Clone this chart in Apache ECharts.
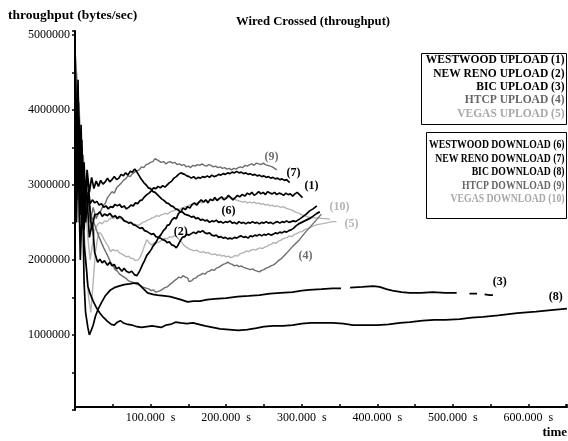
<!DOCTYPE html>
<html>
<head>
<meta charset="utf-8">
<title>Wired Crossed (throughput)</title>
<script src="https://cdn.jsdelivr.net/npm/echarts@6/dist/echarts.min.js"></script>
<style>html,body{margin:0;padding:0;background:#fff;}</style>
</head>
<body>
<div id="main" style="width:568px;height:441px;"></div>
<script type="text/javascript">
// legend texts and line tags
var uploadNames = ['WESTWOOD UPLOAD (1)', 'NEW RENO UPLOAD (2)', 'BIC UPLOAD (3)', 'HTCP UPLOAD (4)', 'VEGAS UPLOAD (5)'];
var downloadNames = ['WESTWOOD DOWNLOAD (6)', 'NEW RENO DOWNLOAD (7)', 'BIC DOWNLOAD (8)', 'HTCP DOWNLOAD (9)', 'VEGAS DOWNLOAD (10)'];
var tags = ['(1)', '(2)', '(3)', '(4)', '(5)', '(6)', '(7)', '(8)', '(9)', '(10)'];
// where each tag sits, [time s, bytes/sec]
var tagAt = [[313, 2987000], [140, 2373000], [562, 1707000], [305, 2053000], [366, 2480000],
             [203, 2653000], [289, 3160000], [636, 1507000], [260, 3373000], [350, 2707000]];

// [time (s), throughput (bytes/sec)]
var westwoodUp = [[0,4950000],[2,3000000],[4,4300000],[6,2500000],[9,3600000],[12,2400000],[15,3000000],[19,2300000],[23,2500000],[26,2100000],[30,1970000],[33,2010000],[36,1960000],[39,1990000],[43,1930000],[46,1970000],[49,1920000],[52,1940000],[55,1880000],[58,1900000],[62,1850000],[65,1890000],[68,1850000],[72,1830000],[75,1850000],[79,1800000],[82,1790000],[84,1780000],[86,1860000],[89,1930000],[92,1990000],[95,2060000],[97,2040000],[99,2110000],[101,2140000],[103,2180000],[105,2170000],[107,2230000],[110,2290000],[112,2270000],[114,2340000],[117,2390000],[120,2420000],[122,2460000],[125,2470000],[128,2530000],[131,2560000],[134,2550000],[137,2620000],[140,2640000],[143,2690000],[146,2670000],[149,2710000],[152,2690000],[155,2740000],[158,2760000],[161,2730000],[164,2770000],[167,2800000],[170,2770000],[173,2800000],[176,2760000],[179,2810000],[182,2790000],[185,2830000],[188,2790000],[191,2820000],[194,2840000],[197,2800000],[200,2820000],[203,2860000],[206,2830000],[209,2800000],[212,2830000],[215,2860000],[218,2840000],[221,2870000],[225,2850000],[228,2890000],[231,2870000],[234,2900000],[237,2860000],[240,2880000],[243,2910000],[246,2880000],[249,2900000],[252,2870000],[255,2910000],[258,2890000],[261,2880000],[264,2900000],[267,2870000],[270,2890000],[273,2880000],[276,2860000],[279,2890000],[282,2870000],[285,2880000],[288,2850000],[291,2880000],[294,2900000],[297,2870000],[299,2880000],[301,2830000]];
var newRenoUp = [[0,4600000],[2,2800000],[5,3900000],[8,2600000],[11,3200000],[14,2500000],[18,2900000],[22,2400000],[26,2600000],[30,2610000],[33,2640000],[36,2580000],[39,2610000],[43,2590000],[46,2620000],[50,2570000],[53,2590000],[56,2550000],[59,2580000],[62,2560000],[65,2520000],[68,2510000],[71,2490000],[74,2500000],[77,2470000],[80,2460000],[83,2440000],[86,2420000],[89,2430000],[92,2390000],[95,2380000],[98,2360000],[101,2340000],[104,2350000],[107,2310000],[110,2300000],[113,2290000],[116,2270000],[119,2260000],[122,2230000],[125,2240000],[128,2200000],[131,2190000],[134,2160000],[136,2190000],[138,2230000],[140,2250000],[142,2300000],[145,2310000],[148,2340000],[151,2330000],[154,2350000],[157,2370000],[160,2350000],[163,2380000],[166,2370000],[169,2390000],[172,2360000],[175,2350000],[178,2360000],[181,2330000],[184,2320000],[187,2330000],[190,2300000],[193,2310000],[196,2290000],[199,2300000],[202,2280000],[205,2290000],[208,2280000],[211,2300000],[214,2290000],[217,2310000],[220,2320000],[223,2300000],[226,2310000],[229,2290000],[232,2320000],[235,2310000],[238,2330000],[241,2320000],[244,2340000],[247,2320000],[250,2340000],[253,2330000],[256,2350000],[259,2330000],[262,2340000],[265,2360000],[268,2350000],[271,2370000],[274,2360000],[277,2380000],[280,2370000],[283,2390000],[286,2400000],[289,2420000],[292,2450000],[296,2480000],[300,2500000],[304,2520000],[308,2540000],[312,2560000],[316,2590000],[320,2620000],[324,2640000]];
var bicUp = [[0,4800000],[2,2500000],[4,3600000],[7,2000000],[10,2900000],[12,1700000],[14,1300000],[17,1100000],[19,1000000],[21,1050000],[24,1130000],[27,1250000],[30,1330000],[35,1430000],[40,1520000],[47,1600000],[52,1630000],[58,1650000],[65,1670000],[72,1680000],[78,1690000],[83,1690000],[90,1620000],[96,1560000],[103,1540000],[109,1530000],[118,1520000],[126,1510000],[133,1490000],[140,1470000],[149,1440000],[157,1450000],[165,1450000],[175,1470000],[185,1480000],[200,1490000],[215,1510000],[230,1520000],[244,1530000],[258,1550000],[272,1560000],[288,1570000],[300,1590000],[310,1600000],[326,1610000],[341,1620000],[352,1620000],[358,null],[364,1630000],[380,1640000],[395,1650000],[403,1640000],[412,1610000],[420,1590000],[432,1570000],[443,1560000],[458,1560000],[473,1570000],[490,1560000],[505,1560000],[518,null],[522,1550000],[532,1550000],[538,null],[542,1540000],[549,1530000],[553,1530000]];
var htcpUp = [[0,4300000],[2,3000000],[4,3700000],[7,2600000],[10,3200000],[13,2800000],[17,2900000],[21,2600000],[25,2500000],[29,2380000],[32,2300000],[35,2230000],[38,2160000],[41,2100000],[44,2040000],[47,1970000],[50,1930000],[53,1870000],[56,1850000],[59,1810000],[62,1790000],[65,1770000],[68,1750000],[71,1720000],[74,1710000],[77,1700000],[80,1680000],[83,1670000],[86,1660000],[89,1640000],[92,1630000],[95,1620000],[98,1610000],[101,1590000],[104,1600000],[107,1570000],[110,1580000],[113,1590000],[116,1610000],[119,1630000],[122,1640000],[125,1670000],[128,1690000],[131,1720000],[134,1740000],[137,1770000],[140,1760000],[143,1790000],[146,1770000],[149,1760000],[151,1710000],[154,1720000],[157,1750000],[160,1760000],[163,1790000],[166,1800000],[169,1820000],[172,1810000],[175,1840000],[178,1850000],[181,1870000],[184,1860000],[187,1890000],[190,1900000],[193,1920000],[196,1940000],[199,1950000],[202,1970000],[205,1950000],[208,1940000],[211,1920000],[214,1930000],[217,1910000],[220,1920000],[223,1900000],[226,1890000],[229,1880000],[232,1870000],[235,1880000],[238,1860000],[241,1850000],[244,1840000],[247,1860000],[250,1870000],[253,1890000],[256,1900000],[259,1920000],[262,1930000],[265,1950000],[268,1980000],[272,2010000],[276,2050000],[280,2090000],[288,2180000],[297,2270000],[305,2370000],[313,2460000],[320,2540000],[326,2610000]];
var vegasUp = [[0,4700000],[3,4400000],[6,3800000],[9,3000000],[12,2400000],[15,1900000],[18,1500000],[21,1300000],[24,1700000],[27,2100000],[30,2300000],[32,2370000],[35,2340000],[38,2280000],[41,2230000],[44,2180000],[47,2110000],[50,2140000],[53,2120000],[56,2130000],[59,2090000],[62,2080000],[65,2060000],[68,2040000],[71,2050000],[74,2020000],[77,2020000],[80,1990000],[83,2000000],[86,2030000],[89,2100000],[92,2190000],[95,2270000],[98,2230000],[101,2200000],[104,2220000],[107,2240000],[110,2230000],[113,2250000],[116,2270000],[119,2290000],[122,2280000],[125,2310000],[128,2300000],[131,2320000],[134,2310000],[137,2280000],[140,2250000],[143,2210000],[146,2180000],[149,2160000],[152,2140000],[155,2130000],[158,2120000],[161,2130000],[164,2110000],[167,2100000],[170,2110000],[173,2090000],[176,2100000],[179,2080000],[182,2070000],[185,2080000],[188,2060000],[191,2070000],[194,2050000],[197,2060000],[200,2040000],[203,2050000],[206,2030000],[209,2040000],[212,2060000],[215,2050000],[218,2080000],[221,2090000],[224,2100000],[227,2120000],[230,2110000],[233,2130000],[236,2140000],[239,2130000],[242,2150000],[245,2160000],[248,2150000],[251,2170000],[254,2180000],[257,2200000],[260,2210000],[263,2230000],[266,2220000],[269,2250000],[272,2260000],[275,2280000],[278,2290000],[281,2300000],[284,2320000],[287,2310000],[290,2340000],[293,2350000],[297,2370000],[301,2380000],[305,2410000],[309,2420000],[313,2440000],[317,2460000],[321,2470000],[326,2480000],[331,2490000],[336,2500000],[341,2510000],[346,2510000]];
var westwoodDown = [[0,4900000],[2,3400000],[4,4400000],[6,3000000],[8,3800000],[10,2900000],[12,3300000],[14,2800000],[16,3200000],[19,2900000],[22,3100000],[25,2950000],[28,3050000],[31,2980000],[34,3060000],[37,3010000],[40,3040000],[43,3090000],[46,3040000],[49,3070000],[52,3110000],[55,3070000],[58,3090000],[61,3140000],[64,3120000],[67,3160000],[70,3130000],[73,3180000],[76,3170000],[79,3210000],[82,3170000],[85,3120000],[88,3070000],[91,3030000],[94,3000000],[97,2960000],[100,2950000],[103,2910000],[106,2900000],[109,2870000],[112,2840000],[115,2810000],[118,2790000],[121,2760000],[124,2750000],[127,2720000],[130,2710000],[133,2680000],[136,2670000],[139,2640000],[142,2640000],[145,2610000],[148,2600000],[151,2590000],[154,2570000],[157,2580000],[160,2550000],[163,2560000],[166,2530000],[169,2540000],[172,2520000],[175,2530000],[178,2500000],[181,2520000],[184,2510000],[187,2530000],[190,2500000],[193,2510000],[196,2490000],[199,2510000],[202,2500000],[205,2520000],[208,2490000],[211,2500000],[214,2480000],[217,2510000],[220,2490000],[223,2500000],[226,2480000],[229,2500000],[232,2490000],[235,2510000],[238,2490000],[241,2500000],[244,2480000],[247,2500000],[250,2490000],[253,2510000],[256,2490000],[259,2500000],[262,2480000],[265,2500000],[268,2510000],[271,2490000],[274,2510000],[277,2500000],[280,2520000],[283,2500000],[286,2510000],[289,2520000],[292,2510000],[295,2530000],[298,2550000],[302,2580000],[306,2610000],[310,2650000],[315,2680000],[320,2720000]];
var newRenoDown = [[0,4500000],[2,2900000],[4,3900000],[7,2700000],[10,3300000],[13,2800000],[16,3100000],[20,2750000],[23,2800000],[26,2760000],[29,2780000],[32,2730000],[35,2750000],[38,2700000],[41,2720000],[44,2680000],[47,2710000],[50,2700000],[53,2740000],[56,2720000],[59,2740000],[62,2700000],[65,2720000],[68,2680000],[71,2700000],[74,2730000],[77,2720000],[80,2760000],[83,2750000],[86,2790000],[89,2800000],[92,2840000],[95,2870000],[98,2890000],[101,2920000],[104,2960000],[107,2950000],[110,2980000],[113,2960000],[116,2990000],[119,2970000],[122,3000000],[125,3030000],[128,3050000],[131,3090000],[134,3110000],[137,3140000],[140,3160000],[142,3180000],[145,3140000],[148,3120000],[151,3110000],[154,3090000],[157,3110000],[160,3080000],[163,3100000],[166,3090000],[169,3110000],[172,3100000],[175,3120000],[178,3100000],[181,3130000],[184,3110000],[187,3120000],[190,3140000],[193,3130000],[196,3150000],[199,3140000],[202,3160000],[205,3150000],[208,3170000],[211,3160000],[214,3180000],[217,3160000],[220,3170000],[223,3150000],[226,3160000],[229,3140000],[232,3150000],[235,3130000],[238,3140000],[241,3120000],[244,3130000],[247,3110000],[250,3120000],[253,3100000],[256,3110000],[259,3090000],[262,3100000],[265,3080000],[268,3090000],[271,3070000],[274,3080000],[277,3060000],[280,3070000],[284,3030000]];
var bicDown = [[0,4700000],[2,3300000],[4,4200000],[6,2800000],[9,3500000],[12,2200000],[15,1900000],[17,1650000],[20,1550000],[24,1450000],[28,1370000],[33,1290000],[38,1230000],[43,1180000],[48,1140000],[52,1130000],[56,1170000],[60,1190000],[64,1160000],[70,1140000],[76,1130000],[82,1110000],[88,1100000],[95,1110000],[102,1120000],[108,1110000],[114,1100000],[120,1130000],[126,1140000],[133,1170000],[140,1160000],[148,1150000],[156,1160000],[164,1140000],[172,1120000],[182,1100000],[192,1080000],[204,1070000],[216,1060000],[228,1070000],[240,1090000],[250,1110000],[262,1120000],[275,1120000],[288,1130000],[300,1150000],[312,1160000],[326,1160000],[341,1160000],[355,1150000],[368,1130000],[385,1130000],[400,1130000],[415,1140000],[430,1160000],[443,1170000],[460,1190000],[475,1200000],[490,1200000],[509,1210000],[525,1230000],[540,1240000],[560,1260000],[585,1290000],[610,1310000],[630,1330000],[651,1350000]];
var htcpDown = [[0,4400000],[2,3300000],[5,4100000],[8,2900000],[11,3400000],[14,2600000],[17,2900000],[20,2500000],[24,2700000],[28,2550000],[31,2620000],[34,2650000],[37,2720000],[40,2750000],[43,2830000],[46,2870000],[49,2910000],[52,2890000],[55,2960000],[58,2990000],[61,3020000],[64,3060000],[67,3080000],[70,3120000],[73,3110000],[76,3150000],[79,3170000],[82,3190000],[85,3200000],[88,3240000],[91,3230000],[94,3270000],[97,3280000],[100,3300000],[103,3310000],[106,3350000],[108,3370000],[111,3320000],[114,3300000],[117,3310000],[120,3280000],[123,3300000],[126,3310000],[129,3290000],[132,3300000],[135,3270000],[138,3280000],[141,3260000],[144,3270000],[147,3240000],[150,3250000],[153,3230000],[156,3260000],[159,3250000],[162,3270000],[165,3260000],[168,3280000],[171,3260000],[174,3250000],[177,3270000],[180,3260000],[183,3240000],[186,3250000],[189,3230000],[192,3240000],[195,3220000],[198,3230000],[201,3210000],[204,3220000],[207,3200000],[210,3220000],[213,3210000],[216,3230000],[219,3240000],[222,3230000],[225,3260000],[228,3250000],[231,3270000],[234,3280000],[237,3260000],[240,3290000],[243,3280000],[246,3270000],[249,3290000],[252,3270000],[255,3260000],[258,3250000],[261,3240000],[264,3220000],[267,3200000]];
var vegasDown = [[0,4800000],[2,4500000],[5,4100000],[8,3600000],[11,3100000],[14,2700000],[17,2300000],[20,2000000],[23,2200000],[26,2400000],[30,2470000],[33,2500000],[36,2480000],[39,2520000],[42,2510000],[45,2540000],[48,2560000],[51,2550000],[54,2580000],[57,2570000],[60,2550000],[63,2540000],[66,2520000],[69,2510000],[72,2500000],[75,2490000],[78,2480000],[81,2470000],[84,2460000],[87,2480000],[90,2500000],[93,2510000],[96,2530000],[99,2540000],[102,2560000],[105,2570000],[108,2590000],[111,2580000],[114,2600000],[117,2610000],[120,2620000],[123,2610000],[126,2640000],[129,2650000],[132,2660000],[135,2680000],[138,2670000],[141,2690000],[144,2700000],[147,2710000],[150,2720000],[153,2740000],[156,2730000],[159,2750000],[162,2760000],[165,2770000],[168,2760000],[171,2780000],[174,2790000],[177,2780000],[180,2800000],[183,2790000],[186,2810000],[189,2800000],[192,2820000],[195,2810000],[198,2830000],[201,2820000],[204,2840000],[207,2830000],[210,2820000],[213,2800000],[216,2790000],[219,2780000],[222,2770000],[225,2780000],[228,2760000],[231,2770000],[234,2760000],[237,2770000],[240,2750000],[243,2760000],[246,2740000],[249,2750000],[252,2730000],[255,2740000],[258,2720000],[261,2730000],[264,2710000],[267,2720000],[270,2710000],[273,2700000],[276,2710000],[279,2690000],[282,2680000],[285,2670000],[288,2660000],[291,2640000],[294,2630000],[297,2620000],[300,2600000],[304,2590000],[308,2570000],[312,2570000],[317,2560000],[322,2560000],[328,2550000],[332,2550000],[337,2540000]];

var lines = [westwoodUp, newRenoUp, bicUp, htcpUp, vegasUp, westwoodDown, newRenoDown, bicDown, htcpDown, vegasDown];
var names = uploadNames.concat(downloadNames);

var BLACK = '#000000', DARK = '#6e6e6e', LIGHT = '#b4b4b4';
var shade = [BLACK, BLACK, BLACK, DARK, LIGHT, BLACK, BLACK, BLACK, DARK, LIGHT];
var serif = '"Liberation Serif", "DejaVu Serif", serif';

var seriesData = [];
for (var i = 0; i < lines.length; i++) {
    seriesData.push({
        name: names[i],
        type: 'line',
        data: lines[i],
        showSymbol: false,
        silent: true,
        z: shade[i] === BLACK ? 4 : (shade[i] === DARK ? 3 : 2),
        lineStyle: { color: shade[i], width: shade[i] === BLACK ? 1.7 : 1.4 },
        itemStyle: { color: shade[i] },
        markPoint: {
            symbol: 'circle',
            symbolSize: 0,
            silent: true,
            label: {
                show: true,
                position: 'inside',
                formatter: tags[i],
                color: shade[i],
                fontFamily: serif,
                fontWeight: 'bold',
                fontSize: 12
            },
            data: [{ coord: tagAt[i] }]
        }
    });
}

// legend boxes built from the names, right aligned like the original
var graphics = [
    { type: 'text', x: 8, y: 16, style: { text: 'throughput (bytes/sec)', font: 'bold 13.5px ' + serif, fill: '#000', textVerticalAlign: 'middle' } },
    { type: 'text', x: 313, y: 22, style: { text: 'Wired Crossed (throughput)', font: 'bold 12.7px ' + serif, fill: '#000', textAlign: 'center', textVerticalAlign: 'middle' } },
    { type: 'text', x: 567, y: 433, style: { text: 'time', font: 'bold 13px ' + serif, fill: '#000', textAlign: 'right', textVerticalAlign: 'middle' } },
    { type: 'rect', shape: { x: 421.5, y: 53.5, width: 145, height: 71 }, style: { fill: 'none', stroke: '#000', lineWidth: 1 } },
    { type: 'rect', shape: { x: 426.5, y: 132.5, width: 140, height: 86 }, style: { fill: 'none', stroke: '#000', lineWidth: 1 } }
];
var legendColor = [BLACK, BLACK, BLACK, '#666666', '#a8a8a8'];
for (var k = 0; k < 5; k++) {
    graphics.push({ type: 'text', x: 564.5, y: 60.5 + k * 13.3,
        style: { text: uploadNames[k], font: 'bold 11.5px ' + serif, fill: legendColor[k], textAlign: 'right', textVerticalAlign: 'middle' } });
    // the download box is set a little narrower in the original
    graphics.push({ type: 'text', x: 564.5, y: 145 + k * 13.6, scaleX: 0.845,
        style: { text: downloadNames[k], font: 'bold 11.5px ' + serif, fill: legendColor[k], textAlign: 'right', textVerticalAlign: 'middle' } });
}

var myChart = echarts.init(document.getElementById('main'));
var option = {
    animation: false,
    backgroundColor: '#ffffff',
    grid: { left: 75, right: 1, top: 31, bottom: 31, containLabel: false, outerBoundsMode: 'none' },
    xAxis: {
        type: 'value',
        min: 0,
        max: 651,
        interval: 50,
        offset: -3,
        splitLine: { show: false },
        axisLine: { lineStyle: { color: '#000', width: 2 } },
        axisTick: { inside: true, length: 3, lineStyle: { color: '#000', width: 1.5 } },
        axisLabel: {
            margin: 5,
            color: '#000',
            fontFamily: serif,
            fontSize: 12,
            formatter: function (v) { return (v > 0 && v % 100 === 0) ? v.toFixed(3) + '  s' : ''; }
        }
    },
    yAxis: {
        type: 'value',
        min: 0,
        max: 5050000,
        interval: 500000,
        splitLine: { show: false },
        axisLine: { lineStyle: { color: '#000', width: 2 } },
        axisTick: { length: 3, lineStyle: { color: '#000', width: 1.5 } },
        axisLabel: {
            margin: 5,
            color: '#000',
            fontFamily: serif,
            fontSize: 12,
            formatter: function (v) { return (v > 0 && v % 1000000 === 0) ? String(v) : ''; }
        }
    },
    graphic: graphics,
    series: seriesData
};
myChart.setOption(option);
</script>
</body>
</html>
